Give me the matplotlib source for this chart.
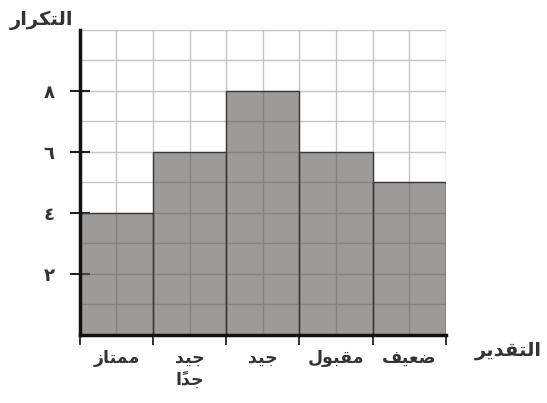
import numpy as np
import matplotlib.pyplot as plt

# data
categories = ['ممتاز', 'جيد\nجداً', 'جيد', 'مقبول', 'ضعيف']
counts = [4, 6, 8, 6, 5]
y_ticks = [2, 4, 6, 8]
y_tick_labels = ['٢', '٤', '٦', '٨']
x_title = 'التقدير'
y_title = 'التكرار'

# minimal arabic shaping (matplotlib has no RTL / joining support)
FORMS = {
    'ا': (0xFE8D, 0xFE8E, None, None), 'ب': (0xFE8F, 0xFE90, 0xFE91, 0xFE92),
    'ت': (0xFE95, 0xFE96, 0xFE97, 0xFE98), 'ج': (0xFE9D, 0xFE9E, 0xFE9F, 0xFEA0),
    'د': (0xFEA9, 0xFEAA, None, None), 'ر': (0xFEAD, 0xFEAE, None, None),
    'ز': (0xFEAF, 0xFEB0, None, None), 'ض': (0xFEBD, 0xFEBE, 0xFEBF, 0xFEC0),
    'ع': (0xFEC9, 0xFECA, 0xFECB, 0xFECC), 'ف': (0xFED1, 0xFED2, 0xFED3, 0xFED4),
    'ق': (0xFED5, 0xFED6, 0xFED7, 0xFED8), 'ك': (0xFED9, 0xFEDA, 0xFEDB, 0xFEDC),
    'ل': (0xFEDD, 0xFEDE, 0xFEDF, 0xFEE0), 'م': (0xFEE1, 0xFEE2, 0xFEE3, 0xFEE4),
    'و': (0xFEED, 0xFEEE, None, None), 'ي': (0xFEF1, 0xFEF2, 0xFEF3, 0xFEF4),
}
MARKS = set('\u064B\u064C\u064D\u064E\u064F\u0650\u0651\u0652')


def shape_word(word):
    letters = [c for c in word if c not in MARKS]
    clusters = []
    li = 0
    for c in word:
        if c in MARKS:
            clusters[-1] += c
            continue
        f = FORMS.get(c)
        if f is None:
            clusters.append(c)
            li += 1
            continue
        prev = letters[li - 1] if li > 0 else None
        nxt = letters[li + 1] if li + 1 < len(letters) else None
        join_prev = prev in FORMS and FORMS[prev][2] is not None
        join_next = nxt in FORMS and f[2] is not None
        if join_prev and join_next:
            g = f[3]
        elif join_prev:
            g = f[1]
        elif join_next:
            g = f[2]
        else:
            g = f[0]
        clusters.append(chr(g))
        li += 1
    return ''.join(reversed(clusters))


def ar(text):
    lines = []
    for line in text.split('\n'):
        lines.append(' '.join(shape_word(w) for w in reversed(line.split(' '))))
    return '\n'.join(lines)


fig = plt.figure(figsize=(5.47, 4.03), dpi=100)
ax = fig.add_axes([0.146, 0.169, 0.669, 0.757])

x = np.arange(len(counts))
ax.bar(x, counts, width=1, align='edge', color=(0.36, 0.34, 0.34, 0.6),
       edgecolor='#3a3a3a', linewidth=1.0, zorder=3)

ax.set_xlim(0, len(counts))
ax.set_ylim(0, 10)

# x: labels centred on bars, ticks on bar borders
ax.set_xticks(x + 0.5)
ax.set_xticklabels([ar(c) for c in categories], fontsize=12.5, fontweight='bold',
                   color='#333333', linespacing=1.3)
ax.set_xticks(np.arange(0, len(counts) + 1), minor=True)
ax.tick_params(axis='x', which='major', length=0, pad=10)
ax.tick_params(axis='x', which='minor', direction='out', length=7, width=1.3, color='#222222')

ax.set_yticks(y_ticks)
ax.set_yticklabels(y_tick_labels, fontsize=13, fontweight='bold', color='#333333')
ax.set_yticks(np.arange(1, 11), minor=True)
ax.tick_params(axis='y', which='major', direction='inout', length=14, width=1.5,
               color='#222222', pad=11)
ax.tick_params(axis='y', which='minor', length=0)

ax.grid(True, which='both', color='#c4c4c4', linewidth=1.0, zorder=1)
ax.set_axisbelow(True)

for side in ['top', 'right']:
    ax.spines[side].set_visible(False)
for side in ['left', 'bottom']:
    ax.spines[side].set_linewidth(2.5)
    ax.spines[side].set_color('#111111')
    ax.spines[side].set_zorder(4)

ax.text(-0.105, 1.032, ar(y_title), transform=ax.transAxes, ha='center', va='center',
        fontsize=14, fontweight='bold', color='#333333')
ax.text(1.17, -0.05, ar(x_title), transform=ax.transAxes, ha='center', va='center',
        fontsize=14, fontweight='bold', color='#333333')

fig.savefig('out.png', dpi=100)
